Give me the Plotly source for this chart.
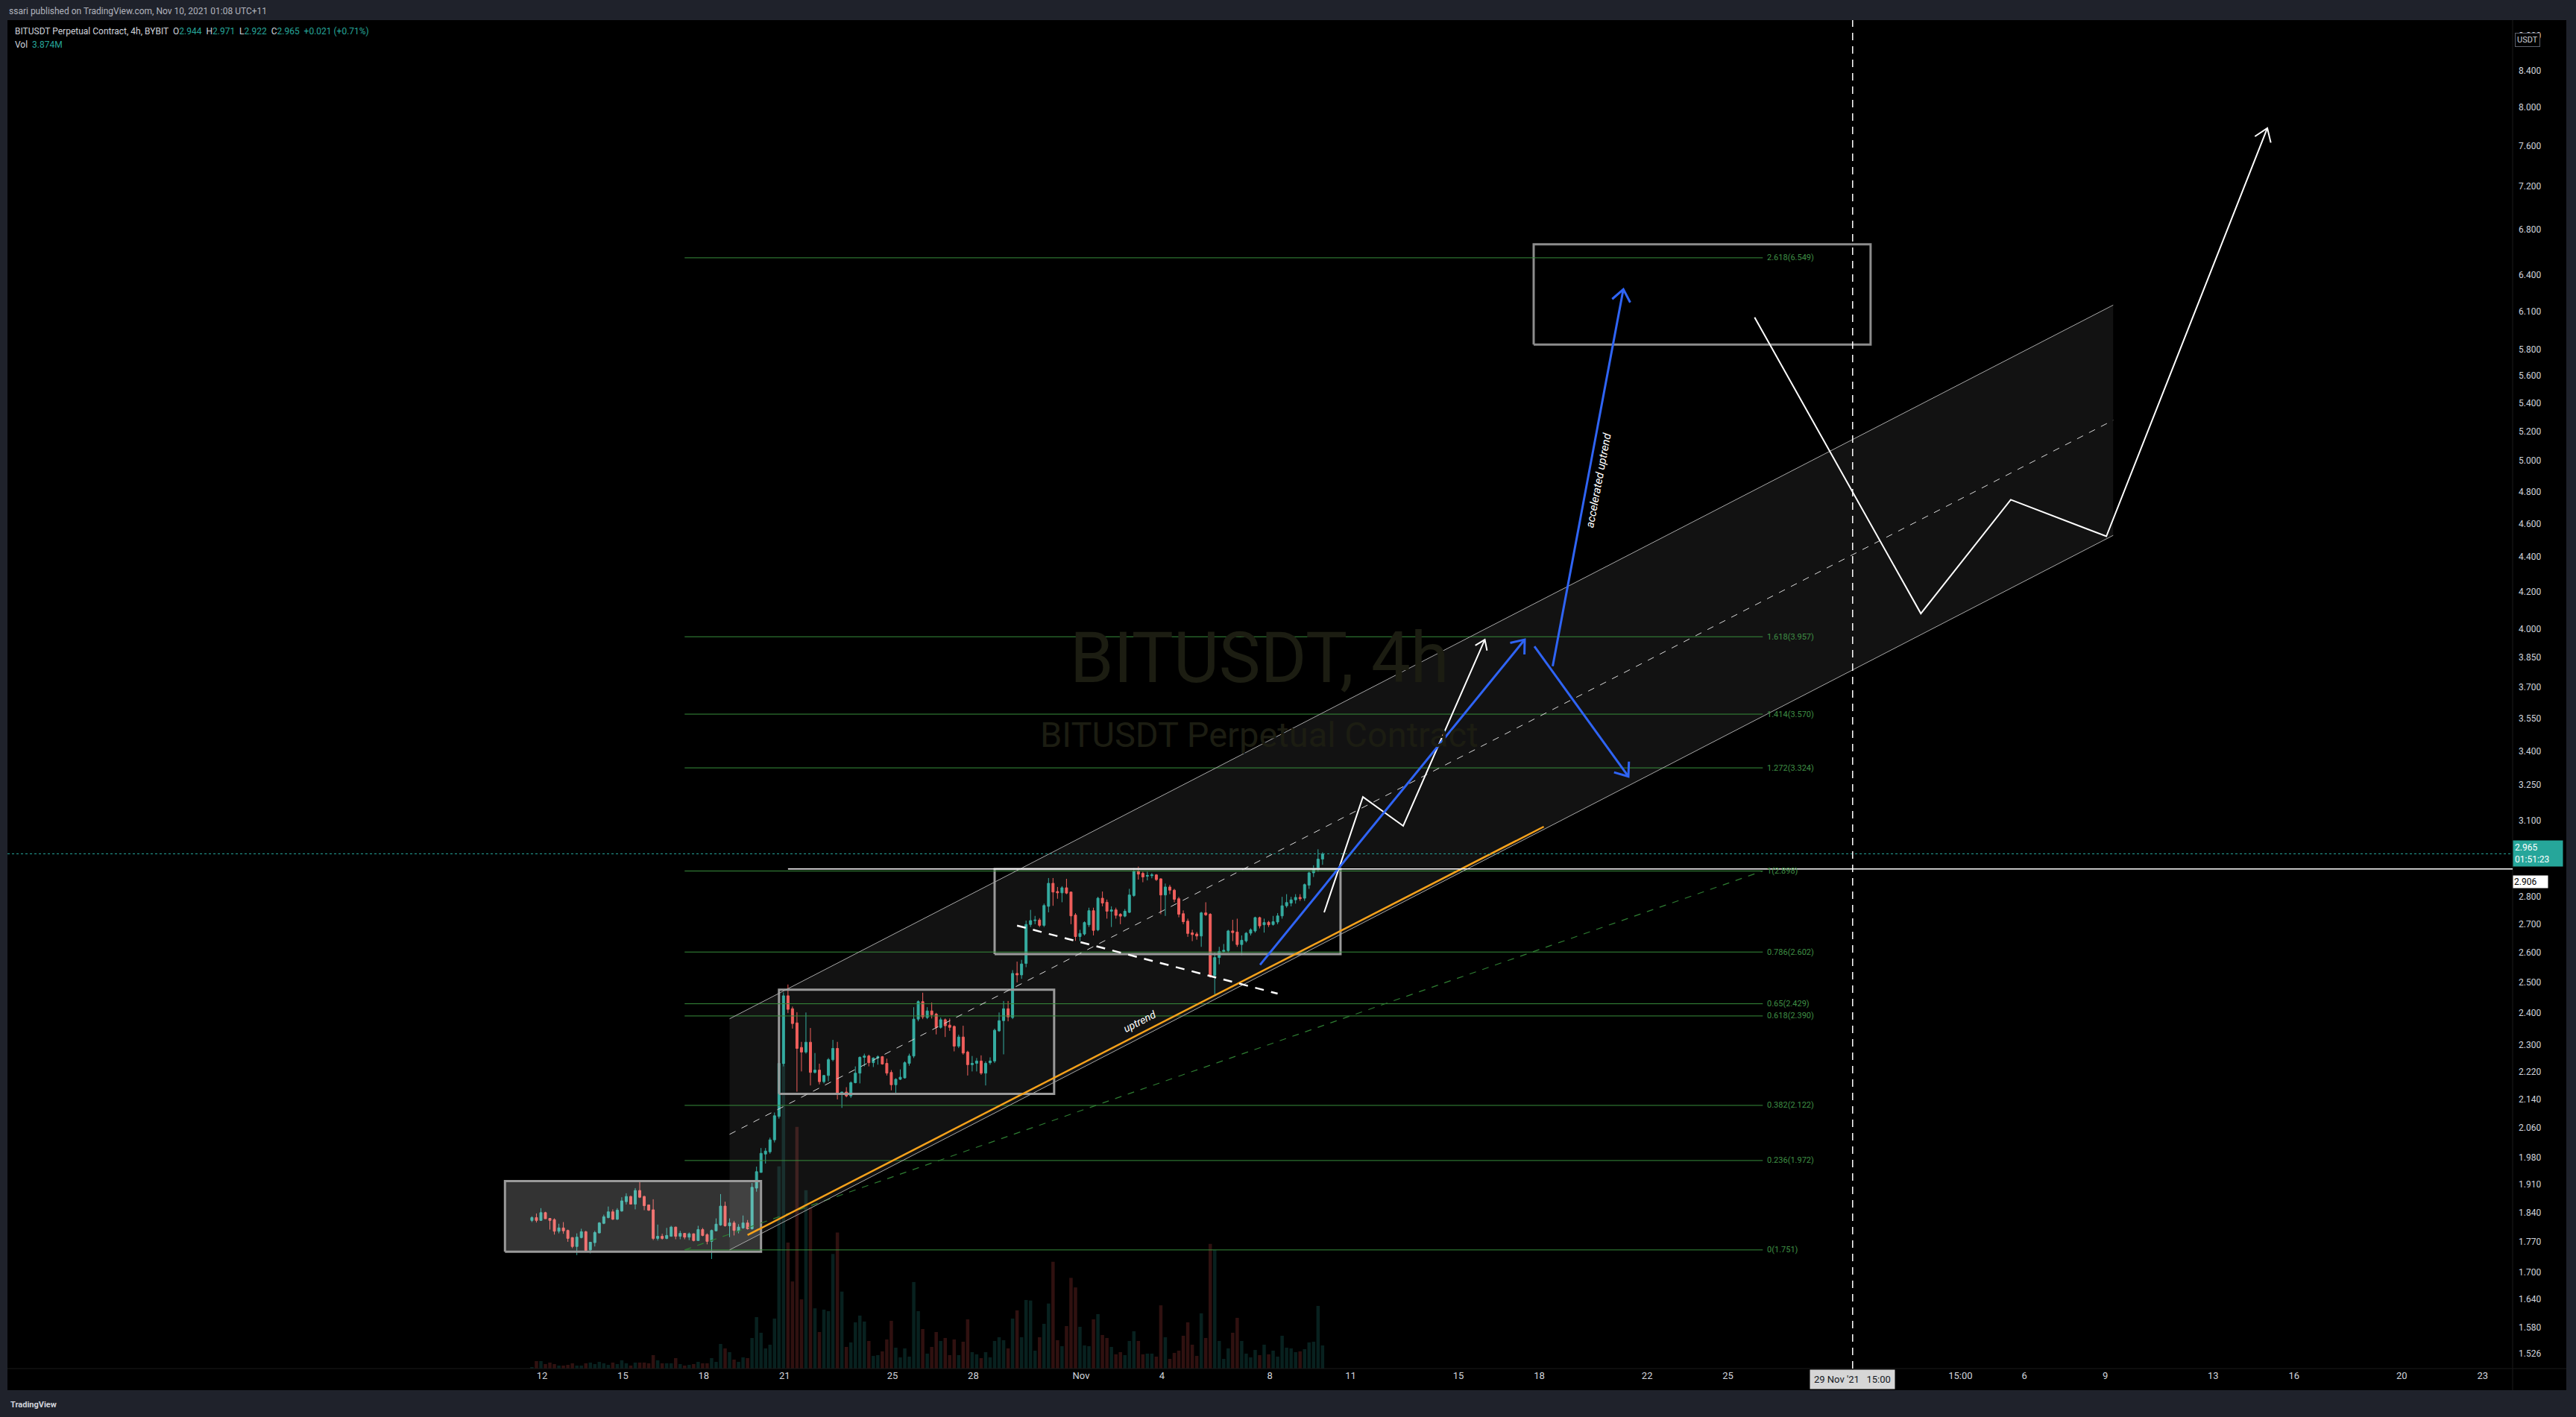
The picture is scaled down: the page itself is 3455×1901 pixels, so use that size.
import numpy as np
import pandas as pd
import plotly.graph_objects as go

# ---------------------------------------------------------------- data
candle_start = "2021-10-11 15:00"   # 4h candles, local UTC+11

opens = [
    1.821, 1.828, 1.821, 1.840, 1.826, 1.823, 1.795, 1.803, 1.797, 1.780,
    1.759, 1.780, 1.794, 1.751, 1.768, 1.791, 1.814, 1.828, 1.842, 1.824,
    1.844, 1.867, 1.880, 1.861, 1.895, 1.880, 1.859, 1.847, 1.778, 1.783,
    1.778, 1.783, 1.805, 1.783, 1.790, 1.781, 1.789, 1.773, 1.799, 1.787,
    1.771, 1.796, 1.810, 1.856, 1.808, 1.815, 1.796, 1.803, 1.815, 1.801,
    1.901, 1.941, 1.989, 1.995, 2.027, 2.091, 2.243, 2.455, 2.413, 2.368,
    2.292, 2.278, 2.308, 2.217, 2.224, 2.190, 2.208, 2.255, 2.289, 2.154,
    2.160, 2.149, 2.187, 2.215, 2.262, 2.266, 2.246, 2.260, 2.264, 2.244,
    2.217, 2.181, 2.197, 2.201, 2.244, 2.266, 2.380, 2.436, 2.385, 2.406,
    2.396, 2.354, 2.378, 2.361, 2.357, 2.296, 2.324, 2.278, 2.240, 2.244,
    2.251, 2.215, 2.246, 2.251, 2.343, 2.375, 2.413, 2.385, 2.529, 2.524,
    2.563, 2.699, 2.713, 2.715, 2.696, 2.765, 2.851, 2.820, 2.815, 2.834,
    2.818, 2.733, 2.656, 2.665, 2.698, 2.749, 2.680, 2.795, 2.780, 2.747,
    2.752, 2.736, 2.729, 2.743, 2.805, 2.896, 2.889, 2.878, 2.880, 2.883,
    2.868, 2.807, 2.837, 2.825, 2.793, 2.738, 2.711, 2.669, 2.665, 2.658,
    2.741, 2.736, 2.522, 2.583, 2.604, 2.607, 2.676, 2.672, 2.628, 2.641,
    2.668, 2.676, 2.724, 2.698, 2.707, 2.699, 2.708, 2.730, 2.767, 2.777,
    2.789, 2.798, 2.795, 2.844, 2.891, 2.904, 2.944]
closes = [
    1.828, 1.821, 1.840, 1.825, 1.821, 1.795, 1.803, 1.796, 1.778, 1.759,
    1.781, 1.794, 1.750, 1.769, 1.792, 1.815, 1.830, 1.842, 1.824, 1.846,
    1.869, 1.880, 1.861, 1.895, 1.878, 1.857, 1.846, 1.778, 1.783, 1.778,
    1.785, 1.805, 1.783, 1.790, 1.781, 1.789, 1.773, 1.799, 1.785, 1.771,
    1.797, 1.812, 1.856, 1.808, 1.815, 1.797, 1.805, 1.815, 1.801, 1.903,
    1.943, 1.991, 1.997, 2.027, 2.093, 2.244, 2.455, 2.411, 2.366, 2.289,
    2.278, 2.308, 2.217, 2.224, 2.190, 2.208, 2.255, 2.289, 2.154, 2.160,
    2.149, 2.187, 2.215, 2.262, 2.266, 2.246, 2.260, 2.264, 2.242, 2.215,
    2.181, 2.197, 2.203, 2.246, 2.266, 2.380, 2.436, 2.387, 2.406, 2.394,
    2.354, 2.378, 2.359, 2.354, 2.296, 2.324, 2.275, 2.240, 2.244, 2.251,
    2.215, 2.244, 2.251, 2.345, 2.375, 2.413, 2.387, 2.529, 2.524, 2.561,
    2.699, 2.713, 2.715, 2.696, 2.768, 2.851, 2.818, 2.815, 2.834, 2.814,
    2.730, 2.656, 2.667, 2.706, 2.749, 2.678, 2.795, 2.777, 2.747, 2.752,
    2.732, 2.729, 2.747, 2.807, 2.896, 2.886, 2.875, 2.881, 2.883, 2.865,
    2.807, 2.837, 2.825, 2.791, 2.736, 2.709, 2.667, 2.663, 2.658, 2.741,
    2.734, 2.519, 2.583, 2.604, 2.608, 2.676, 2.670, 2.628, 2.643, 2.668,
    2.680, 2.724, 2.694, 2.706, 2.698, 2.709, 2.730, 2.767, 2.779, 2.789,
    2.798, 2.793, 2.846, 2.891, 2.902, 2.944, 2.965]
highs = [
    1.831, 1.838, 1.851, 1.842, 1.826, 1.826, 1.813, 1.817, 1.799, 1.781,
    1.790, 1.801, 1.796, 1.770, 1.796, 1.817, 1.835, 1.855, 1.848, 1.851,
    1.878, 1.888, 1.882, 1.901, 1.916, 1.882, 1.860, 1.873, 1.811, 1.789,
    1.803, 1.808, 1.806, 1.796, 1.791, 1.792, 1.790, 1.808, 1.803, 1.790,
    1.799, 1.826, 1.886, 1.867, 1.826, 1.820, 1.812, 1.833, 1.822, 1.914,
    1.956, 2.005, 2.005, 2.033, 2.102, 2.254, 2.466, 2.492, 2.420, 2.402,
    2.309, 2.401, 2.352, 2.275, 2.243, 2.210, 2.260, 2.315, 2.309, 2.161,
    2.174, 2.191, 2.235, 2.265, 2.273, 2.270, 2.262, 2.268, 2.266, 2.258,
    2.224, 2.200, 2.226, 2.250, 2.273, 2.418, 2.440, 2.465, 2.418, 2.433,
    2.400, 2.385, 2.382, 2.382, 2.360, 2.331, 2.359, 2.282, 2.266, 2.260,
    2.268, 2.250, 2.262, 2.350, 2.401, 2.438, 2.438, 2.540, 2.569, 2.575,
    2.713, 2.752, 2.730, 2.722, 2.775, 2.871, 2.871, 2.837, 2.840, 2.868,
    2.820, 2.740, 2.680, 2.710, 2.760, 2.760, 2.800, 2.820, 2.790, 2.765,
    2.760, 2.740, 2.755, 2.830, 2.910, 2.915, 2.895, 2.895, 2.890, 2.886,
    2.870, 2.850, 2.845, 2.830, 2.800, 2.750, 2.720, 2.680, 2.672, 2.745,
    2.780, 2.740, 2.600, 2.620, 2.630, 2.680, 2.716, 2.720, 2.660, 2.672,
    2.685, 2.727, 2.727, 2.720, 2.712, 2.730, 2.740, 2.800, 2.810, 2.800,
    2.810, 2.810, 2.850, 2.895, 2.920, 2.983, 2.971]
lows = [
    1.817, 1.816, 1.821, 1.825, 1.799, 1.787, 1.790, 1.789, 1.770, 1.755,
    1.739, 1.778, 1.750, 1.743, 1.759, 1.790, 1.812, 1.826, 1.822, 1.822,
    1.842, 1.860, 1.860, 1.848, 1.876, 1.846, 1.844, 1.774, 1.773, 1.775,
    1.776, 1.782, 1.776, 1.776, 1.776, 1.774, 1.771, 1.772, 1.783, 1.764,
    1.730, 1.795, 1.808, 1.806, 1.781, 1.785, 1.790, 1.801, 1.799, 1.799,
    1.892, 1.941, 1.964, 1.990, 2.020, 2.085, 2.235, 2.399, 2.350, 2.161,
    2.220, 2.273, 2.179, 2.214, 2.182, 2.185, 2.191, 2.250, 2.139, 2.115,
    2.145, 2.143, 2.185, 2.185, 2.235, 2.235, 2.233, 2.240, 2.240, 2.208,
    2.165, 2.152, 2.195, 2.199, 2.237, 2.260, 2.373, 2.380, 2.380, 2.382,
    2.332, 2.350, 2.324, 2.343, 2.280, 2.290, 2.270, 2.208, 2.220, 2.220,
    2.210, 2.179, 2.240, 2.245, 2.340, 2.271, 2.373, 2.380, 2.499, 2.511,
    2.550, 2.690, 2.700, 2.690, 2.690, 2.743, 2.767, 2.793, 2.780, 2.810,
    2.700, 2.641, 2.640, 2.660, 2.690, 2.660, 2.675, 2.765, 2.720, 2.690,
    2.720, 2.700, 2.725, 2.740, 2.800, 2.865, 2.855, 2.862, 2.870, 2.860,
    2.736, 2.730, 2.810, 2.780, 2.725, 2.700, 2.655, 2.640, 2.645, 2.620,
    2.730, 2.515, 2.460, 2.560, 2.600, 2.600, 2.640, 2.620, 2.591, 2.635,
    2.660, 2.670, 2.685, 2.670, 2.690, 2.695, 2.700, 2.720, 2.760, 2.765,
    2.775, 2.785, 2.785, 2.830, 2.875, 2.895, 2.922]
volumes_m = [
    0.25, 1.25, 1.25, 0.75, 1.0, 0.75, 0.5, 0.5, 0.62, 0.88,
    0.5, 0.5, 0.88, 1.0, 0.75, 1.12, 0.88, 0.62, 1.0, 0.75,
    1.38, 0.88, 0.5, 1.0, 1.0, 1.0, 0.88, 2.25, 1.38, 0.88,
    0.88, 0.88, 1.75, 0.75, 0.5, 0.62, 0.75, 1.12, 0.88, 0.88,
    1.75, 1.12, 4.12, 3.38, 2.75, 1.5, 1.12, 1.88, 1.75, 5.12,
    8.62, 6.0, 3.38, 4.0, 8.38, 33.9, 50.9, 21.1, 14.6, 40.5,
    11.6, 29.9, 27.0, 10.1, 6.12, 9.88, 9.62, 19.2, 22.8, 12.9,
    3.62, 4.38, 7.75, 8.88, 7.88, 4.62, 2.12, 2.25, 2.88, 4.88,
    8.0, 3.5, 1.88, 3.38, 2.0, 14.5, 9.62, 6.62, 2.5, 3.62,
    6.12, 4.62, 5.12, 2.25, 4.88, 2.25, 4.5, 8.25, 2.75, 2.38,
    1.75, 2.75, 1.88, 4.62, 5.25, 4.75, 3.38, 8.38, 9.75, 5.25,
    11.5, 11.4, 3.0, 5.25, 7.5, 10.9, 17.9, 4.75, 3.75, 7.12,
    15.2, 13.6, 7.0, 3.88, 3.75, 8.25, 9.12, 5.62, 5.12, 3.62,
    2.38, 2.75, 2.25, 4.62, 6.25, 4.62, 2.38, 2.5, 2.5, 2.0,
    10.6, 5.25, 1.62, 2.62, 3.0, 5.5, 7.75, 4.0, 2.12, 9.25,
    5.12, 20.9, 19.9, 4.62, 1.62, 3.38, 6.0, 8.5, 4.62, 2.5,
    1.88, 3.12, 2.25, 4.0, 2.38, 3.0, 2.0, 5.5, 3.5, 3.38,
    2.75, 2.88, 3.25, 4.38, 4.5, 10.5, 3.874]

# Fibonacci retracement (log scale), anchored 0 = 1.751, 1 = 2.898
fib_ratios = ["0", "0.236", "0.382", "0.618", "0.65", "0.786", "1", "1.272", "1.414", "1.618", "2.618"]
fib_prices = [1.751, 1.972, 2.122, 2.390, 2.429, 2.602, 2.898, 3.324, 3.570, 3.957, 6.549]
fib_time = ["2021-10-17 07:00", "2021-11-26 07:00"]

# parallel channel
channel_time = ["2021-10-18 23:00", "2021-12-09 07:00"]
channel_upper = [2.381, 6.150]
channel_lower = [1.751, 4.528]

# rectangles: (t0, t1, p_low, p_high)
box_consol1 = ["2021-10-10 15:00", "2021-10-20 03:00", 1.747, 1.919]
box_consol2 = ["2021-10-20 19:00", "2021-10-31 00:00", 2.155, 2.475]
box_consol3 = ["2021-10-28 19:00", "2021-11-10 15:00", 2.595, 2.906]
box_target = ["2021-11-17 19:00", "2021-11-30 07:00", 5.835, 6.668]

# trend lines / projections
uptrend_time = ["2021-10-19 15:00", "2021-11-18 04:00"]
uptrend_price = [1.786, 3.074]
down_dash_time = ["2021-10-29 15:00", "2021-11-08 07:00"]
down_dash_price = [2.695, 2.462]
white_path1_time = ["2021-11-10 00:26", "2021-11-11 10:57", "2021-11-12 22:48", "2021-11-15 23:30"]
white_path1_price = [2.743, 3.198, 3.077, 3.942]
blue_a_time = ["2021-11-07 15:20", "2021-11-17 11:01"]
blue_a_price = [2.558, 3.942]
blue_b_time = ["2021-11-17 19:39", "2021-11-21 07:18"]
blue_b_price = [3.907, 3.286]
blue_c_time = ["2021-11-18 11:56", "2021-11-21 02:51"]
blue_c_price = [3.805, 6.281]
white_path2_time = ["2021-11-25 23:43", "2021-12-02 03:45", "2021-12-05 11:48", "2021-12-09 00:56", "2021-12-15 00:16"]
white_path2_price = [6.050, 4.081, 4.748, 4.522, 7.781]
crosshair_time = "2021-11-29 15:00"
hline_white_time = "2021-10-21 03:00"
hline_white_price = 2.906
uptrend_label = ["2021-11-03 04:26", 2.374]
accel_label = ["2021-11-20 04:45", 4.874]

price_ticks = [8.8, 8.4, 8.0, 7.6, 7.2, 6.8, 6.4, 6.1, 5.8, 5.6, 5.4, 5.2, 5.0, 4.8, 4.6, 4.4,
               4.2, 4.0, 3.85, 3.7, 3.55, 3.4, 3.25, 3.1, 2.8, 2.7, 2.6, 2.5, 2.4, 2.3, 2.22,
               2.14, 2.06, 1.98, 1.91, 1.84, 1.77, 1.7, 1.64, 1.58, 1.526]
date_tick_vals = ["2021-10-12", "2021-10-15", "2021-10-18", "2021-10-21", "2021-10-25", "2021-10-28",
                  "2021-11-01", "2021-11-04", "2021-11-08", "2021-11-11", "2021-11-15", "2021-11-18",
                  "2021-11-22", "2021-11-25", "2021-12-03 15:00", "2021-12-06", "2021-12-09",
                  "2021-12-13", "2021-12-16", "2021-12-20", "2021-12-23"]
date_tick_text = ["12", "15", "18", "21", "25", "28", "Nov", "4", "8", "11", "15", "18", "22", "25",
                  "15:00", "6", "9", "13", "16", "20", "23"]

# ---------------------------------------------------------------- geometry
W, H = 3455, 1901
L, R, T, B = 10, 3370, 27, 1836
x_range = [pd.Timestamp("2021-09-22 04:00"), pd.Timestamp("2021-12-24 02:41")]
ylog = [np.log10(1.4955), np.log10(8.983)]
vol_top = 226.0

def t2px(t):
    return L + (pd.Timestamp(t) - x_range[0]) / (x_range[1] - x_range[0]) * (R - L)

def px2t(x):
    return x_range[0] + (x - L) / (R - L) * (x_range[1] - x_range[0])

def p2py(p):
    return T + (ylog[1] - np.log10(p)) / (ylog[1] - ylog[0]) * (B - T)

def py2p(y):
    return 10 ** (ylog[1] - (y - T) / (B - T) * (ylog[1] - ylog[0]))

def fx(x):
    return (x - L) / (R - L)

def fy(y):
    return (B - y) / (B - T)

def arrow_head(times, prices, length, spread):
    x1, y1 = t2px(times[-1]), p2py(prices[-1])
    x0, y0 = t2px(times[-2]), p2py(prices[-2])
    ang = np.arctan2(y0 - y1, x0 - x1)
    xs, ys = [], []
    for s in (-1, 0, 1):
        if s == 0:
            xs.append(pd.Timestamp(times[-1])); ys.append(prices[-1])
        else:
            a = ang + s * np.radians(spread)
            xs.append(px2t(x1 + length * np.cos(a)))
            ys.append(py2p(y1 + length * np.sin(a)))
    return xs, ys

def pix_angle(times, prices):
    dx = t2px(times[1]) - t2px(times[0])
    dy = p2py(prices[1]) - p2py(prices[0])
    return float(np.degrees(np.arctan2(dy, dx)))

# ---------------------------------------------------------------- figure
TEAL, RED = "#26a69a", "#ef5350"
times = pd.date_range(candle_start, periods=len(opens), freq="4h")
fig = go.Figure()

def line(xs, ys, color, width=1, dash="solid", fill=None, fillcolor=None):
    fig.add_trace(go.Scatter(x=[pd.Timestamp(v) for v in xs], y=ys, mode="lines", yaxis="y2",
                             line=dict(color=color, width=width, dash=dash),
                             fill=fill, fillcolor=fillcolor, hoverinfo="skip", showlegend=False))

# volume (base axis, drawn underneath)
vcol = ["rgba(38,166,154,0.2)" if c >= o else "rgba(239,83,80,0.2)" for o, c in zip(opens, closes)]
fig.add_trace(go.Bar(x=times, y=volumes_m, marker=dict(color=vcol, line_width=0),
                     width=4 * 3600 * 1000 * 0.75, hoverinfo="skip", showlegend=False, yaxis="y"))

# channel fill
ct = channel_time
line([ct[0], ct[1], ct[1], ct[0], ct[0]],
     [channel_upper[0], channel_upper[1], channel_lower[1], channel_lower[0], channel_upper[0]],
     "rgba(0,0,0,0)", 0, fill="toself", fillcolor="rgba(255,255,255,0.07)")

# box fills / outlines
def box(b, border, bw, fillc=None):
    xs = [b[0], b[1], b[1], b[0], b[0]]
    ys = [b[2], b[2], b[3], b[3], b[2]]
    if fillc:
        line(xs, ys, "rgba(0,0,0,0)", 0, fill="toself", fillcolor=fillc)
    line(xs, ys, border, bw)

box(box_consol1, "#9a9a9a", 3, "rgba(255,255,255,0.2)")
box(box_consol2, "#9a9a9a", 3)
box(box_consol3, "#9a9a9a", 3)
box(box_target, "#8c8c8c", 3)

# fib lines
for r, p in zip(fib_ratios, fib_prices):
    line(fib_time, [p, p], "#388e3c", 1)
line(fib_time, [fib_prices[0], fib_prices[6]], "#2e7d32", 1.2, dash="dash")

# channel lines
line(channel_time, channel_upper, "#a8a8a8", 1)
line(channel_time, channel_lower, "#a8a8a8", 1)
mid = list(np.sqrt(np.array(channel_upper) * np.array(channel_lower)))
line(channel_time, mid, "#d8d8d8", 1, dash="dash")

# candles
fig.add_trace(go.Candlestick(x=times, open=opens, high=highs, low=lows, close=closes, yaxis="y2",
                             increasing=dict(line=dict(color=TEAL, width=1), fillcolor=TEAL),
                             decreasing=dict(line=dict(color=RED, width=1), fillcolor=RED),
                             whiskerwidth=0, hoverinfo="skip", showlegend=False))

# drawings
line(uptrend_time, uptrend_price, "#f7a21b", 2.5)
line(down_dash_time, down_dash_price, "#ffffff", 2.5, dash="12px,10px")
line(white_path1_time, white_path1_price, "#ffffff", 2)
hx, hy = arrow_head(white_path1_time, white_path1_price, 15, 35)
line(hx, hy, "#ffffff", 2)
BLUE = "#2f64f5"
for tt, pp in ((blue_a_time, blue_a_price), (blue_b_time, blue_b_price), (blue_c_time, blue_c_price)):
    line(tt, pp, BLUE, 3)
    hx, hy = arrow_head(tt, pp, 20, 38)
    line(hx, hy, BLUE, 3)
line(white_path2_time, white_path2_price, "#ffffff", 2)
hx, hy = arrow_head(white_path2_time, white_path2_price, 20, 35)
line(hx, hy, "#ffffff", 2)

# ---------------------------------------------------------------- annotations
ann = []
FONT = "Roboto, 'Liberation Sans', sans-serif"
for r, p in zip(fib_ratios, fib_prices):
    ann.append(dict(x=pd.Timestamp(fib_time[1]), y=np.log10(p), xref="x", yref="y2", xanchor="left",
                    yanchor="middle", xshift=4, showarrow=False, text=f"{r}({p:.3f})",
                    font=dict(family=FONT, size=11, color="#3f8f45")))

ann.append(dict(x=pd.Timestamp(uptrend_label[0]), y=np.log10(uptrend_label[1]), xref="x", yref="y2",
                showarrow=False, text="<i>uptrend</i>", textangle=pix_angle(uptrend_time, uptrend_price),
                font=dict(family=FONT, size=14, color="#ffffff")))
ann.append(dict(x=pd.Timestamp(accel_label[0]), y=np.log10(accel_label[1]), xref="x", yref="y2",
                showarrow=False, text="<i>accelerated uptrend</i>",
                textangle=pix_angle(blue_c_time, blue_c_price),
                font=dict(family=FONT, size=15, color="#ffffff")))

# watermark
ann.append(dict(x=fx(1689), y=fy(883), xref="paper", yref="paper", showarrow=False, text="BITUSDT, 4h",
                font=dict(family=FONT, size=94, color="#1c1d12")))
ann.append(dict(x=fx(1689), y=fy(986), xref="paper", yref="paper", showarrow=False,
                text="BITUSDT Perpetual Contract", font=dict(family=FONT, size=47, color="#1c1d12")))

# header
ann.append(dict(x=fx(10), y=fy(15), xref="paper", yref="paper", xanchor="left", yanchor="middle",
                showarrow=False, text="ssari published on TradingView.com, Nov 10, 2021 01:08 UTC+11",
                font=dict(family=FONT, size=12, color="#b2b5be")))
chg = closes[-1] - closes[-2]
sp = "&nbsp;&nbsp;"
tc = lambda s: f"<span style='color:{TEAL}'>{s}</span>"
legend = ("BITUSDT Perpetual Contract, 4h, BYBIT" + sp + "O" + tc(f"{opens[-1]:.3f}") + sp +
          "H" + tc(f"{highs[-1]:.3f}") + sp + "L" + tc(f"{lows[-1]:.3f}") + sp +
          "C" + tc(f"{closes[-1]:.3f}") + sp + tc(f"+{chg:.3f} (+{chg / closes[-2] * 100:.2f}%)"))
ann.append(dict(x=fx(18), y=fy(42), xref="paper", yref="paper", xanchor="left", yanchor="middle",
                showarrow=False, text=legend, font=dict(family=FONT, size=12, color="#d1d4dc")))
ann.append(dict(x=fx(18), y=fy(60), xref="paper", yref="paper", xanchor="left", yanchor="middle",
                showarrow=False, text="Vol" + sp + tc(f"{volumes_m[-1]:.3f}M"),
                font=dict(family=FONT, size=12, color="#d1d4dc")))

# price axis badges
ann.append(dict(x=fx(3407), y=fy(44), xref="paper", yref="paper", showarrow=False, text="USDT",
                bgcolor="#000000", bordercolor="#5d606b", borderwidth=1, borderpad=2,
                font=dict(family=FONT, size=11, color="#d1d4dc")))
ann.append(dict(x=fx(3370), y=np.log10(closes[-1]), xref="paper", yref="y2", xanchor="left",
                yanchor="middle", showarrow=False, align="left", width=62,
                text=f"{closes[-1]:.3f}<br>01:51:23", bgcolor=TEAL, borderpad=2,
                font=dict(family=FONT, size=12, color="#ffffff")))
ann.append(dict(x=fx(3370), y=fy(1183), xref="paper", yref="paper", xanchor="left", yanchor="middle",
                showarrow=False, align="left", width=44, text=f"{hline_white_price:.3f}",
                bgcolor="#ffffff", borderpad=1, font=dict(family=FONT, size=12, color="#000000")))
# crosshair time label
ann.append(dict(x=pd.Timestamp(crosshair_time), y=fy(1850), xref="x", yref="paper", yanchor="middle",
                showarrow=False, text="29 Nov '21&nbsp;&nbsp;&nbsp;15:00", bgcolor="#d6d6d6", borderpad=5,
                font=dict(family=FONT, size=13, color="#131722")))
# footer logo
ann.append(dict(x=fx(12), y=fy(1884), xref="paper", yref="paper", xanchor="left", yanchor="middle",
                showarrow=False, text="<b>TradingView</b>", font=dict(family=FONT, size=11, color="#d1d4dc")))

# ---------------------------------------------------------------- shapes
shapes = [
    dict(type="rect", xref="paper", yref="paper", x0=fx(10), x1=fx(3442), y0=fy(1865), y1=fy(27),
         fillcolor="#000000", line=dict(width=0), layer="below"),
    dict(type="line", xref="paper", yref="paper", x0=fx(10), x1=fx(3442), y0=fy(1836), y1=fy(1836),
         line=dict(color="#1b1b1b", width=1)),
    dict(type="line", xref="paper", yref="paper", x0=1, x1=1, y0=fy(1865), y1=1,
         line=dict(color="#1b1b1b", width=1)),
    dict(type="line", xref="paper", yref="y2", x0=0, x1=1, y0=closes[-1], y1=closes[-1],
         line=dict(color=TEAL, width=1, dash="dot")),
    dict(type="line", xref="x", yref="y2", x0=pd.Timestamp(hline_white_time), x1=x_range[1],
         y0=hline_white_price, y1=hline_white_price, line=dict(color="#ffffff", width=1.5)),
    dict(type="line", xref="x", yref="paper", x0=pd.Timestamp(crosshair_time), x1=pd.Timestamp(crosshair_time),
         y0=0, y1=1, line=dict(color="#ffffff", width=1.5, dash="10px,8px")),
]

fig.update_layout(
    width=W, height=H, autosize=False,
    margin=dict(l=L, r=W - R, t=T, b=H - B),
    paper_bgcolor="#1f222b", plot_bgcolor="#000000",
    showlegend=False, hovermode=False,
    annotations=ann, shapes=shapes,
    xaxis=dict(type="date", range=x_range, showgrid=False, zeroline=False, showline=False, ticks="",
               tickvals=[pd.Timestamp(v) for v in date_tick_vals], ticktext=date_tick_text,
               tickfont=dict(family=FONT, size=13, color="#d1d4dc"), rangeslider=dict(visible=False),
               fixedrange=True),
    yaxis=dict(range=[0, vol_top], visible=False, fixedrange=True),
    yaxis2=dict(type="log", overlaying="y", side="right", range=ylog, showgrid=False, zeroline=False,
                showline=False, ticks="", tickvals=price_ticks, ticktext=[f"{v:.3f}" for v in price_ticks],
                tickfont=dict(family=FONT, size=12, color="#d1d4dc"), ticklabelstandoff=7,
                fixedrange=True),
)

fig.write_html("out.html", config={"displayModeBar": False},
               post_script="document.body.style.margin='0';document.body.style.background='#1f222b';")
